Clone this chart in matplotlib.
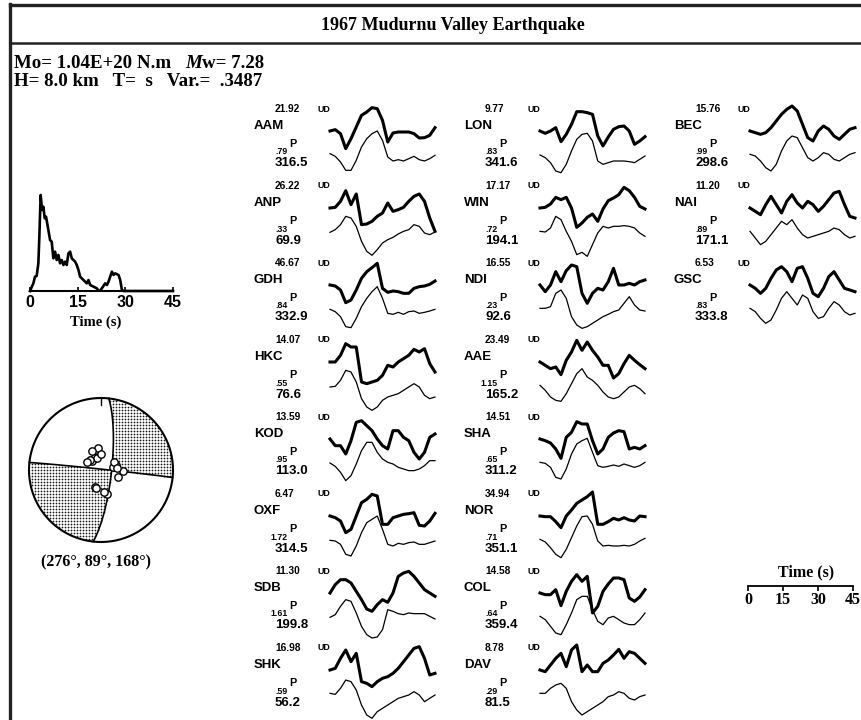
import numpy as np
import matplotlib
matplotlib.use("Agg")
import matplotlib.pyplot as plt
from matplotlib.lines import Line2D

# ---------------- data ----------------
title = "1967 Mudurnu Valley Earthquake"
mo_text = "Mo= 1.04E+20 N.m"
mw_text = "w= 7.28"
line2_text = "H= 8.0 km   T=  s   Var.=  .3487"
mech = (276.0, 89.0, 168.0)  # strike, dip, rake
mech_label = "(276°, 89°, 168°)"

# source time function (time s, relative amplitude)
stf_t = [0, 1.05, 1.58, 2.10, 2.63, 2.94, 3.36, 3.79, 4.21, 4.63, 5.05, 5.78, 6.31, 6.83,
         7.36, 7.89, 8.41, 8.94, 9.46, 9.99, 10.52, 11.04, 11.57, 12.09, 12.62, 13.14,
         13.67, 14.20, 14.72, 15.25, 15.77, 16.82, 17.88, 18.40, 18.93, 19.98, 21.03,
         21.56, 22.08, 22.61, 23.66, 24.19, 24.71, 25.76, 26.29, 26.81, 27.87, 28.39,
         28.92, 29.44, 45.0]
stf_a = [0, 23, 43, 45, 83, 163, 288, 243, 253, 218, 223, 183, 153, 148,
         98, 118, 93, 108, 83, 93, 78, 88, 78, 113, 118, 98,
         93, 88, 78, 63, 43, 33, 23, 33, 18, 13, 8,
         1, 1, 8, 23, 18, 28, 58, 48, 53, 48, 33,
         3, 0, 0]
stf_ticks = [0, 15, 30, 45]

# stations: name, max amplitude, weight, azimuth, takeoff angle
col1_names = ["AAM", "ANP", "GDH", "HKC", "KOD", "OXF", "SDB", "SHK"]
col1_amp = ["21.92", "26.22", "46.67", "14.07", "13.59", "6.47", "11.30", "16.98"]
col1_wt = [".79", ".33", ".84", ".55", ".95", "1.72", "1.61", ".59"]
col1_az = ["316.5", "69.9", "332.9", "76.6", "113.0", "314.5", "199.8", "56.2"]
col1_toa = [16, 18, 16, 14, 21, 15, 20, 17]

col2_names = ["LON", "WIN", "NDI", "AAE", "SHA", "NOR", "COL", "DAV"]
col2_amp = ["9.77", "17.17", "16.55", "23.49", "14.51", "34.94", "14.58", "8.78"]
col2_wt = [".83", ".72", ".23", "1.15", ".65", ".71", ".64", ".29"]
col2_az = ["341.6", "194.1", "92.6", "165.2", "311.2", "351.1", "359.4", "81.5"]
col2_toa = [14, 21, 25, 28, 17, 25, 18, 18]

col3_names = ["BEC", "NAI", "GSC"]
col3_amp = ["15.76", "11.20", "6.53"]
col3_wt = [".99", ".89", ".83"]
col3_az = ["298.6", "171.1", "333.8"]
col3_toa = [18, 25, 24]

# waveforms sampled every 2.25 s over 45 s (observed = thick, synthetic = thin)
aam_obs = [0, 4, -8, -53, -23, 12, 47, 57, 70, 67, 32, -33, -6, -3, -3, -3, -8, -21, -20, -13, 10]
aam_syn = [2, -6, -23, -48, -48, -18, 22, 47, 62, 70, 42, -8, -20, -16, -20, -13, -6, -16, -20, -13, -3]
anp_obs = [0, 2, 20, 52, 10, 42, -50, -48, -40, -25, -15, 15, -10, -5, 2, 20, 35, 42, 20, -30, -70]
anp_syn = [-3, 5, 20, 45, 40, 15, -30, -60, -72, -55, -35, -25, -18, -8, 0, 5, 20, 15, -5, -10, -2]
gdh_obs = [0, -3, -15, -53, -45, -15, 20, 40, 52, 65, -10, -22, -18, -20, -25, -25, -10, -5, -3, 2, 12]
gdh_syn = [-3, -10, -25, -55, -58, -30, 5, 30, 50, 65, 30, -15, -18, -12, -18, -10, -8, -15, -12, -8, -3]
hkc_obs = [0, 0, 20, 55, 45, 45, -60, -65, -60, -55, -40, -10, -15, 0, 10, 20, 38, 30, 40, -5, -30]
hkc_syn = [-5, -3, 15, 45, 40, 10, -40, -65, -75, -65, -45, -35, -30, -25, -15, -5, 5, -5, -30, -40, -35]
kod_obs = [0, -20, -20, -45, -5, 50, 55, 40, 25, 0, -20, -30, 25, 25, 5, -5, -40, -60, -40, 5, 15]
kod_syn = [-2, -12, -30, -55, -40, -5, 35, 60, 60, 30, 10, 0, -5, -15, -20, -25, -25, -20, -10, 5, 5]
oxf_obs = [0, -5, -15, -50, -40, 0, 40, 50, 65, 60, -25, -25, -5, 0, 5, 7, 10, -28, -30, -15, 8]
oxf_syn = [-3, -5, -15, -45, -50, -20, 20, 50, 60, 70, 30, -15, -20, -12, -15, -10, -8, -15, -15, -10, -5]
sdb_obs = [0, 25, 40, 40, 30, 5, -20, -48, -55, -35, -20, -28, 0, 50, 60, 65, 50, 30, 10, 0, -10]
sdb_syn = [-3, 5, 30, 50, 45, 10, -30, -55, -65, -62, -40, 20, 15, 8, 5, 10, 8, 8, 8, 0, -8]
shk_obs = [0, 5, 35, 60, 25, 50, -35, -40, -50, -35, -25, -20, -10, 5, 25, 45, 65, 70, 35, -15, -10]
shk_syn = [0, -3, 15, 40, 35, 10, -35, -65, -75, -55, -45, -35, -25, -15, -10, -5, 5, -5, -25, -15, -5]

lon_obs = [0, -7, 0, 10, -32, -10, 20, 58, 58, 55, 50, -15, -45, -18, 5, 13, 15, 0, -40, -30, -17]
lon_syn = [-2, -10, -25, -50, -55, -30, 10, 45, 60, 63, 40, -20, -30, -25, -20, -20, -20, -22, -25, -15, -5]
win_obs = [0, 2, 12, 32, 25, 32, 0, -58, -45, -28, -18, -40, -3, 22, 30, 40, 62, 52, 32, 5, -3]
win_syn = [0, -2, 10, 45, 35, 0, -30, -70, -63, -75, -40, -5, 15, 10, 15, 15, 17, 15, 10, -5, -15]
ndi_obs = [0, -20, 0, 40, 10, 43, 60, 55, -25, -55, -25, -10, -15, 10, 50, 0, 0, 5, 0, 10, 15]
ndi_syn = [0, 0, 5, 45, 55, 30, -25, -50, -60, -55, -45, -35, -25, -18, -10, -5, 15, 35, 10, -5, -8]
aae_obs = [0, -10, -20, -15, -38, 5, 30, 65, 35, 60, 35, 15, -10, -10, -48, -35, -5, 20, 5, -8, -20]
aae_syn = [0, -15, -35, -45, -48, -25, 5, 35, 50, 25, 15, 0, -20, -35, -40, -35, -20, -5, 0, -10, -25]
sha_obs = [0, -5, -12, -30, -58, 5, 20, 52, 45, 45, -5, -45, -30, 5, 18, 25, 22, -30, -25, -30, -20]
sha_syn = [0, -3, -15, -45, -50, -20, 25, 55, 65, 72, 30, -10, -15, -12, -8, -12, -5, -10, -15, -10, 0]
nor_obs = [0, -2, -2, -17, -35, 0, 18, 38, 48, 58, 72, -25, -25, -17, -7, -12, -5, -12, -15, 0, -2]
nor_syn = [0, -8, -25, -45, -55, -30, 5, 40, 68, 70, 45, -5, -20, -18, -20, -20, -18, -20, -15, -5, 3]
col_obs = [0, -5, -5, 10, -38, 5, 35, 55, 35, 50, -60, -40, 5, 27, 45, 45, 40, -15, -25, -12, 10]
col_syn = [0, -10, -30, -50, -55, -25, 10, 50, 60, 60, 20, -15, -25, -5, 0, -10, -20, -25, -25, -10, 10]
dav_obs = [0, -5, 15, 35, 50, 10, 60, 75, -5, 15, -5, -5, 20, 30, 45, 62, 35, 55, 50, 35, 20]
dav_syn = [0, 0, 15, 25, 30, 15, -25, -50, -65, -55, -45, -35, -25, -10, -5, 5, 0, -15, -20, -10, -5]

bec_obs = [0, -5, -10, -5, 10, 30, 50, 65, 75, 60, 20, -20, -30, 0, 15, 5, -15, -25, -10, 5, 10]
bec_syn = [0, -5, -20, -40, -50, -30, 10, 40, 55, 50, 20, -10, -20, -10, 5, 0, -15, -20, -10, 0, 5]
nai_obs = [0, -10, -20, 10, 35, 10, -15, 20, 40, 15, 0, 20, 10, -10, 5, 25, 45, 50, 10, -25, -30]
nai_syn = [0, -20, -40, -30, -10, 10, 30, 20, 35, 10, -10, -20, -15, -10, -5, 0, 10, 5, -10, -20, -15]
gsc_obs = [0, -10, -25, -10, 20, 45, 55, 40, 10, 50, 55, 20, -25, -35, -10, 25, 40, 15, -10, -15, -20]
gsc_syn = [0, -10, -30, -45, -35, -5, 30, 50, 30, 10, 40, 30, -10, -30, -25, 0, 20, 10, -10, -20, -15]

col1_obs = [aam_obs, anp_obs, gdh_obs, hkc_obs, kod_obs, oxf_obs, sdb_obs, shk_obs]
col1_syn = [aam_syn, anp_syn, gdh_syn, hkc_syn, kod_syn, oxf_syn, sdb_syn, shk_syn]
col2_obs = [lon_obs, win_obs, ndi_obs, aae_obs, sha_obs, nor_obs, col_obs, dav_obs]
col2_syn = [lon_syn, win_syn, ndi_syn, aae_syn, sha_syn, nor_syn, col_syn, dav_syn]
col3_obs = [bec_obs, nai_obs, gsc_obs]
col3_syn = [bec_syn, nai_syn, gsc_syn]

scale_ticks = [0, 15, 30, 45]

# ---------------- figure ----------------
W, H = 861, 720
fig = plt.figure(figsize=(W / 100, H / 100), dpi=100)
fig.patch.set_facecolor("white")
SANS = "Liberation Sans"
SERIF = "Liberation Serif"

bg = fig.add_axes([0, 0, 1, 1])
bg.set_xlim(0, W)
bg.set_ylim(H, 0)
bg.axis("off")


def add_ax(x0, y0, x1, y1):
    ax = fig.add_axes([x0 / W, 1 - y1 / H, (x1 - x0) / W, (y1 - y0) / H])
    ax.patch.set_alpha(0)
    return ax


# frame
bg.add_line(Line2D([9.5, W], [5, 5], lw=2.4, color="#222222"))
bg.add_line(Line2D([9.5, W], [43, 43], lw=1.8, color="#222222"))
bg.add_line(Line2D([9.5, 9.5], [4, H], lw=2.4, color="#222222"))

bg.text(453, 25, title, ha="center", va="center", family=SERIF, weight="bold", fontsize=13)
bg.text(14, 63, mo_text, ha="left", va="center", family=SERIF, weight="bold", fontsize=13.6)
tm = bg.text(185, 63, "M", ha="left", va="center", family=SERIF, weight="bold",
             style="italic", fontsize=13.6)
bg.annotate(mw_text, xy=(1, 0), xycoords=tm, xytext=(0, 0), textcoords="offset points",
            ha="left", va="bottom", family=SERIF, weight="bold", fontsize=13.6)
bg.text(14, 82, line2_text, ha="left", va="center", family=SERIF, weight="bold", fontsize=13.6)

# source time function
ax_stf = add_ax(30, 185, 173, 291)
ax_stf.plot(stf_t, stf_a, color="black", lw=1.9, clip_on=False)
ax_stf.set_xlim(0, 45)
ax_stf.set_ylim(0, 318)
for s in ["top", "right", "left"]:
    ax_stf.spines[s].set_visible(False)
ax_stf.spines["bottom"].set_linewidth(1.5)
ax_stf.set_yticks([])
ax_stf.set_xticks(stf_ticks)
ax_stf.set_xticklabels([str(v) for v in stf_ticks], family=SANS, weight="bold", fontsize=11.5)
ax_stf.tick_params(axis="x", direction="in", length=3, width=1.2, pad=3)
bg.text(96, 322, "Time (s)", ha="center", va="center", family=SERIF, weight="bold", fontsize=10.5)

# focal mechanism
R = 72.0
ax_fm = add_ax(25, 394, 177, 546)
ax_fm.set_xlim(-76, 76)
ax_fm.set_ylim(-76, 76)
ax_fm.set_aspect("equal")
ax_fm.axis("off")

phi, dlt, lam = np.radians(mech)
n_vec = np.array([-np.sin(dlt) * np.sin(phi), np.sin(dlt) * np.cos(phi), -np.cos(dlt)])
u_vec = np.array([np.cos(lam) * np.cos(phi) + np.cos(dlt) * np.sin(lam) * np.sin(phi),
                  np.cos(lam) * np.sin(phi) - np.cos(dlt) * np.sin(lam) * np.cos(phi),
                  -np.sin(lam) * np.sin(dlt)])


def proj(vn, ve, vd):
    inc = np.arccos(np.clip(vd, -1, 1))
    az = np.arctan2(ve, vn)
    r = R * np.sqrt(2) * np.sin(inc / 2)
    return r * np.sin(az), r * np.cos(az)


g = np.arange(-R, R + 0.1, 3.0)
GX, GY = np.meshgrid(g, g)
GX = GX.ravel()
GY = GY.ravel()
rho = np.hypot(GX, GY) / R
inside = rho < 0.985
inc = 2 * np.arcsin(np.clip(rho / np.sqrt(2), 0, 1))
azg = np.arctan2(GX, GY)
gam = np.stack([np.sin(inc) * np.cos(azg), np.sin(inc) * np.sin(azg), np.cos(inc)])
ampP = (n_vec @ gam) * (u_vec @ gam)
sel = inside & (ampP > 0)
ax_fm.scatter(GX[sel], GY[sel], s=1.6, c="#1a1a1a", marker="o", linewidths=0)

for p in (n_vec, u_vec):
    e1 = np.array([-p[1], p[0], 0.0])
    e1 /= np.linalg.norm(e1)
    e2 = np.cross(p, e1)
    if e2[2] < 0:
        e2 = -e2
    tt = np.linspace(0, np.pi, 200)
    v = np.outer(e1, np.cos(tt)) + np.outer(e2, np.sin(tt))
    px, py = proj(v[0], v[1], v[2])
    ax_fm.plot(px, py, color="black", lw=1.2)

th = np.linspace(0, 2 * np.pi, 300)
ax_fm.plot(R * np.cos(th), R * np.sin(th), color="black", lw=1.5)
ax_fm.plot([0, 0], [R, R - 7], color="black", lw=1.0)

all_az = [float(a) for a in col1_az + col2_az + col3_az]
all_toa = col1_toa + col2_toa + col3_toa
sa = np.radians(all_az)
st = np.radians(all_toa)
sx, sy = proj(np.sin(st) * np.cos(sa), np.sin(st) * np.sin(sa), np.cos(st))
ax_fm.scatter(sx, sy, s=28, facecolors="white", edgecolors="black", linewidths=1.0, zorder=5)
bg.text(96, 562, mech_label, ha="center", va="center", family=SERIF, weight="bold", fontsize=11.5)

# waveforms
T = np.linspace(0, 45, 21)
SYN_OFFSET = 70
columns = [
    (col1_names, col1_amp, col1_wt, col1_az, col1_obs, col1_syn),
    (col2_names, col2_amp, col2_wt, col2_az, col2_obs, col2_syn),
    (col3_names, col3_amp, col3_wt, col3_az, col3_obs, col3_syn),
]
for c, (names, amps, wts, azs, obss, syns) in enumerate(columns):
    dx = 210 * c
    for r in range(len(names)):
        ly = 109 + 77 * r
        bg.text(275 + dx, ly, amps[r], ha="left", va="center", family=SANS, weight="bold", fontsize=7.3)
        bg.text(317 + dx, ly, "UD", ha="left", va="center", family=SANS, weight="bold", fontsize=6.4)
        bg.text(254 + dx, ly + 17, names[r], ha="left", va="center", family=SANS, weight="bold", fontsize=9.5)
        bg.text(288 + dx, ly + 43, wts[r], ha="right", va="center", family=SANS, weight="bold", fontsize=6.3)
        bg.text(289 + dx, ly + 35, "P", ha="left", va="center", family=SANS, weight="bold", fontsize=7.8)
        bg.text(275 + dx, ly + 54.5, azs[r], ha="left", va="center", family=SANS, weight="bold", fontsize=9.5)

        ax = add_ax(330 + dx, ly - 12, 435 + dx, ly + 75)
        ax.set_xlim(0, 45)
        ax.set_ylim(-(75 - 22) * 3, (22 + 12) * 3)
        ax.axis("off")
        ax.plot(T, obss[r], color="black", lw=2.2, clip_on=False, solid_joinstyle="round")
        ax.plot(T, np.array(syns[r]) - SYN_OFFSET, color="black", lw=0.9, clip_on=False)

# time scale
ax_ts = add_ax(748, 585, 853, 586)
ax_ts.set_xlim(0, 45)
for s in ["top", "right", "left"]:
    ax_ts.spines[s].set_visible(False)
ax_ts.spines["bottom"].set_linewidth(1.3)
ax_ts.set_yticks([])
ax_ts.set_xticks(scale_ticks)
ax_ts.set_xticklabels([str(v) for v in scale_ticks], family=SERIF, weight="bold", fontsize=11.5)
ax_ts.tick_params(axis="x", direction="out", length=3.5, width=1.2, pad=1)
bg.text(806, 572, "Time (s)", ha="center", va="center", family=SERIF, weight="bold", fontsize=11.5)

fig.savefig("out.png", dpi=100)
